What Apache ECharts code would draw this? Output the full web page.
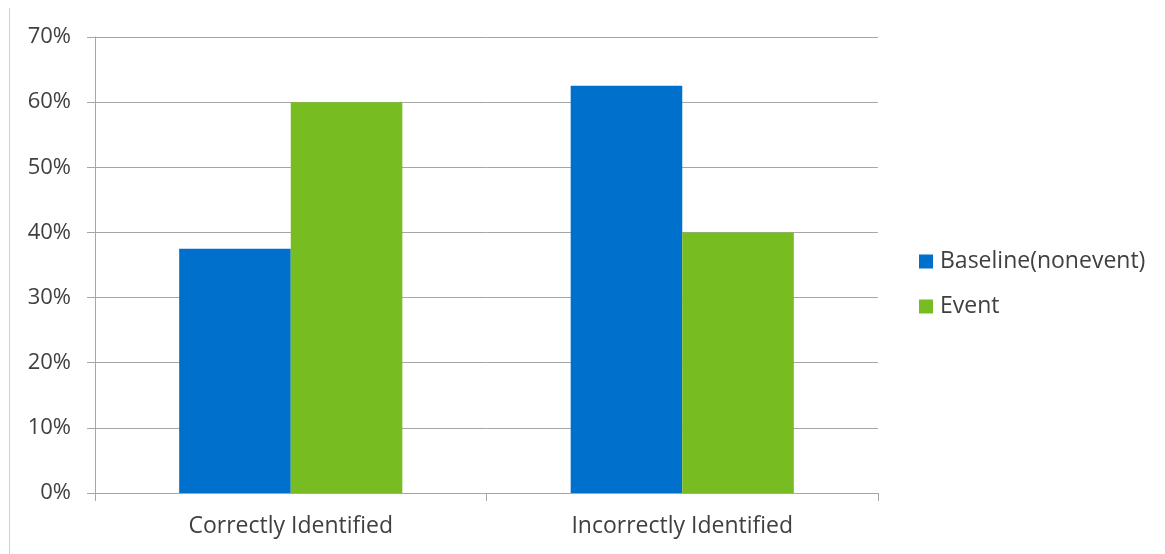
<!DOCTYPE html>
<html>
<head>
<meta charset="utf-8">
<style>
  html, body { margin: 0; padding: 0; background: #ffffff; }
  #chart { width: 1165px; height: 554px; }
</style>
<script src="https://cdn.jsdelivr.net/npm/echarts@6/dist/echarts.min.js"></script>
</head>
<body>
<div id="chart"></div>
<script>
// Share of cases by identification outcome, per condition
const categories = ['Correctly Identified', 'Incorrectly Identified'];
const baselineValues = [37.5, 62.5];
const eventValues = [60, 40];
const seriesNames = ['Baseline(nonevent)', 'Event'];
const yMax = 70;
const yStep = 10;

const textColor = '#404040';
const lineColor = '#a6a6a6';
const fontFamily = '"Open Sans", Lato, "Noto Sans", sans-serif';

const chart = echarts.init(document.getElementById('chart'), null, { renderer: 'canvas' });

chart.setOption({
  animation: false,
  backgroundColor: '#ffffff',
  textStyle: { fontFamily: fontFamily, color: textColor },
  graphic: [{
    type: 'line',
    shape: { x1: 9.5, y1: 8, x2: 9.5, y2: 554 },
    style: { stroke: '#d0d0d0', lineWidth: 1 }
  }],
  grid: { left: 95, right: 287, top: 37, bottom: 61, containLabel: false },
  legend: {
    orient: 'vertical',
    left: 914,
    top: 245,
    itemWidth: 14,
    itemHeight: 14,
    itemGap: 22,
    icon: 'rect',
    textStyle: { fontSize: 23, color: textColor, fontFamily: fontFamily, padding: [0, 0, 0, 2] },
    data: seriesNames
  },
  xAxis: {
    type: 'category',
    data: categories,
    axisLine: { lineStyle: { color: lineColor, width: 1 } },
    axisTick: { show: true, length: 8, alignWithLabel: false, lineStyle: { color: lineColor } },
    axisLabel: { fontSize: 23, color: textColor, margin: 22, fontFamily: fontFamily }
  },
  yAxis: {
    type: 'value',
    min: 0,
    max: yMax,
    interval: yStep,
    axisLine: { show: true, lineStyle: { color: lineColor, width: 1 } },
    axisTick: { show: true, length: 8, lineStyle: { color: lineColor } },
    axisLabel: { fontSize: 22, color: textColor, margin: 24, formatter: '{value}%', fontFamily: fontFamily },
    splitLine: { show: true, lineStyle: { color: lineColor, width: 1 } }
  },
  series: [
    {
      name: seriesNames[0],
      type: 'bar',
      data: baselineValues,
      itemStyle: { color: '#0070cd' },
      barGap: '0%',
      barCategoryGap: '43%'
    },
    {
      name: seriesNames[1],
      type: 'bar',
      data: eventValues,
      itemStyle: { color: '#77bc20' },
      barGap: '0%',
      barCategoryGap: '43%'
    }
  ]
});
</script>
</body>
</html>
